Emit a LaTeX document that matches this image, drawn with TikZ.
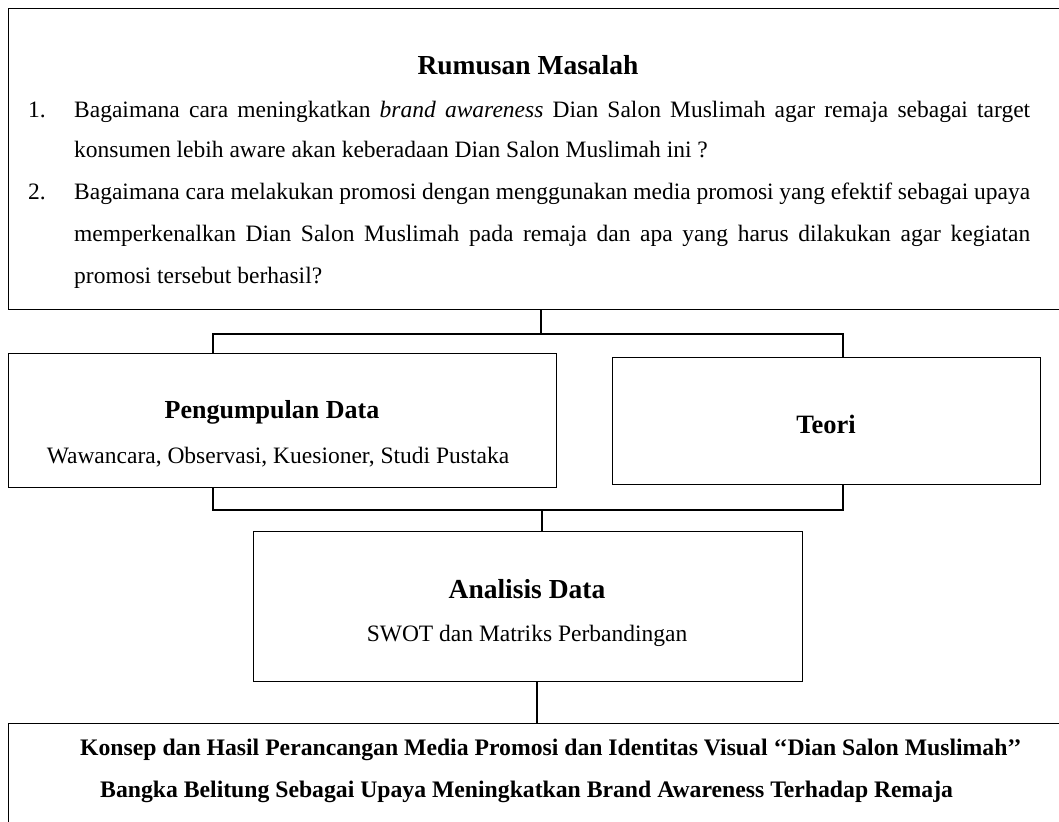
\documentclass[tikz,border=0pt]{standalone}
\usepackage{fontspec}
\setmainfont{Liberation Serif}
\begin{document}
\begin{tikzpicture}[x=1pt,y=-1pt,
  box/.style={draw, line width=1.3pt, rectangle, inner sep=0pt, anchor=north west},
  conn/.style={line width=1.2pt},
  body/.style={font=\fontsize{23.5}{28}\selectfont, inner sep=0pt},
  head/.style={font=\fontsize{26.5}{30}\selectfont\bfseries, inner sep=0pt},
  bbody/.style={font=\fontsize{23.7}{28}\selectfont\bfseries, inner sep=0pt}]
\useasboundingbox (0,0) rectangle (1059,821);
\clip (0,0) rectangle (1059,821);
% boxes
\node[box, minimum width=1070pt, minimum height=301pt] (top) at (8,8) {};
\node[box, minimum width=548pt, minimum height=134pt] (pd) at (8,353) {};
\node[box, minimum width=428pt, minimum height=127pt] (teori) at (612,357) {};
\node[box, minimum width=549pt, minimum height=150pt] (ad) at (253,531) {};
\node[box, minimum width=1070pt, minimum height=140pt] (hasil) at (8,723) {};
% junction coordinates
\coordinate (j1) at (541,334);
\coordinate (jl) at (213,334);
\coordinate (jr) at (843,334);
\coordinate (kl) at (213,510);
\coordinate (kr) at (843,510);
\coordinate (k1) at (542,510);
\coordinate (m) at (537,700);
% connectors
\draw[conn] (j1 |- top.south) -- (j1);
\draw[conn] (jl |- pd.north) -- (jl) -- (jr) -- (jr |- teori.north);
\draw[conn] (kl |- pd.south) -- (kl) -- (kr) -- (kr |- teori.south);
\draw[conn] (k1) -- (k1 |- ad.north);
\draw[conn] (m |- ad.south) -- (m |- hasil.north);
% texts: top box
\node[head, font=\fontsize{27.5}{30}\selectfont\bfseries, anchor=base] (t0) at (528,75) {Rumusan Masalah};
\node[body, anchor=base west] (n1) at (28,118) {1.};
\node[body, anchor=base west] (n2) at (28,199) {2.};
\node[body, anchor=base west] (l1) at (74,118) {\makebox[956pt][s]{Bagaimana cara meningkatkan \textit{brand awareness} Dian Salon Muslimah agar remaja sebagai target}};
\node[body, anchor=base west] (l2) at (74,158) {konsumen lebih aware akan keberadaan Dian Salon Muslimah ini ?};
\node[body, anchor=base west] (l3) at (74,199) {\makebox[956pt][s]{Bagaimana cara melakukan promosi dengan menggunakan media promosi yang efektif sebagai upaya}};
\node[body, anchor=base west] (l4) at (74,241) {\makebox[956pt][s]{memperkenalkan Dian Salon Muslimah pada remaja dan apa yang harus dilakukan agar kegiatan}};
\node[body, anchor=base west] (l5) at (74,283) {promosi tersebut berhasil?};
% pengumpulan data
\node[head, font=\fontsize{26}{30}\selectfont\bfseries, anchor=base] (pdt) at (272,418) {Pengumpulan Data};
\node[body, anchor=base] (pds) at (278,463) {Wawancara, Observasi, Kuesioner, Studi Pustaka};
% teori
\node[head, anchor=base] (tt) at (826,433) {Teori};
% analisis
\node[head, font=\fontsize{27.5}{30}\selectfont\bfseries, anchor=base] (adt) at (527,598) {Analisis Data};
\node[body, anchor=base] (ads) at (527,641) {SWOT dan Matriks Perbandingan};
% hasil
\node[bbody, anchor=base west] (h1) at (80,755) {Konsep dan Hasil Perancangan Media Promosi dan Identitas Visual ‘‘Dian Salon Muslimah’’};
\node[bbody, anchor=base west] (h2) at (100,797) {Bangka Belitung Sebagai Upaya Meningkatkan Brand Awareness Terhadap Remaja};
\end{tikzpicture}
\end{document}
